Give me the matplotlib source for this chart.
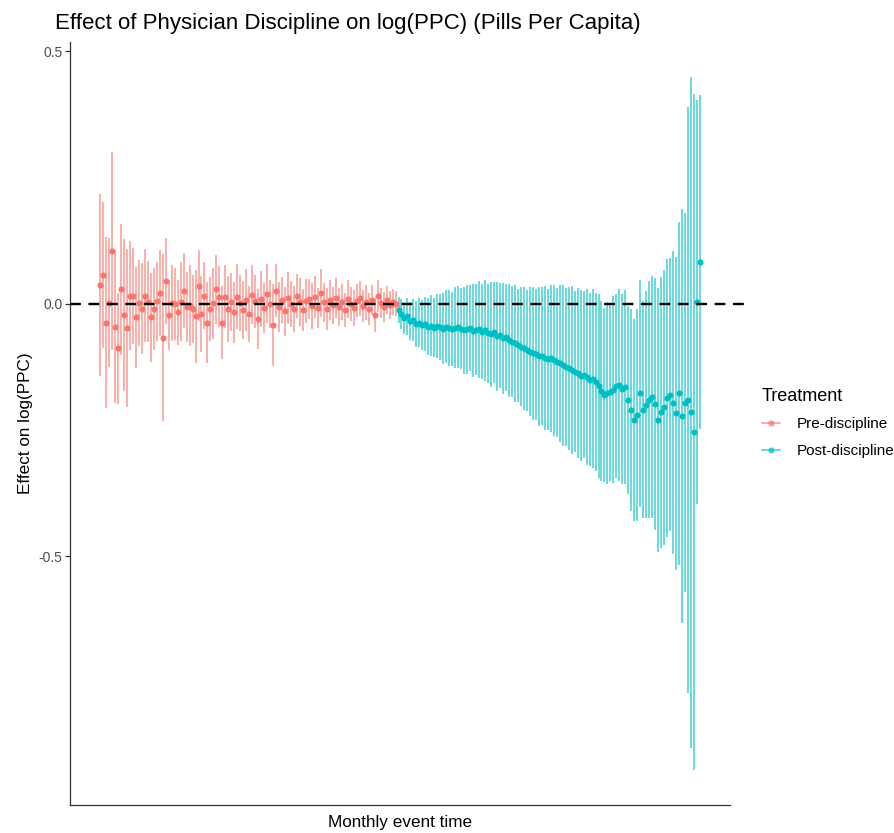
import numpy as np
import matplotlib
matplotlib.use("Agg")
import matplotlib.pyplot as plt
from matplotlib.lines import Line2D

plt.rcParams['font.family'] = ['Liberation Sans', 'DejaVu Sans']

# ---------------- data ----------------
pre_label = "Pre-discipline"
post_label = "Post-discipline"

pre_est = [
    0.038, 0.057, -0.037, 0.002, 0.104, -0.046, -0.088, 0.029, -0.022, -0.048,
    0.016, 0.016, -0.027, 0.002, -0.010, 0.016, 0.004, -0.027, -0.010, 0.005,
    0.021, -0.067, 0.046, -0.022, 0.002, 0.000, -0.017, 0.004, 0.026, -0.006,
    -0.004, -0.010, -0.025, 0.036, -0.020, 0.016, -0.037, -0.010, 0.001, 0.029,
    0.014, -0.037, 0.014, -0.010, 0.004, -0.017, 0.014, 0.002, -0.012, 0.008,
    -0.020, 0.018, 0.005, -0.030, 0.010, -0.008, 0.020, 0.000, -0.042, 0.026,
    -0.006, 0.008, -0.015, 0.012, 0.000, -0.010, 0.016, 0.004, -0.012, 0.006,
    0.010, -0.004, 0.014, -0.008, 0.022, 0.003, -0.010, 0.008, -0.003, 0.012,
    -0.006, 0.004, -0.012, 0.009, 0.000, -0.008, 0.006, 0.011, -0.004, 0.003,
    -0.010, 0.007, -0.022, 0.016, 0.002, -0.006, 0.008, -0.002, 0.004, 0.000,
]
pre_ci = [
    0.180, 0.145, 0.170, 0.128, 0.196, 0.150, 0.110, 0.130, 0.150, 0.156,
    0.108, 0.095, 0.100, 0.085, 0.090, 0.092, 0.080, 0.088, 0.082, 0.078,
    0.085, 0.165, 0.085, 0.070, 0.075, 0.072, 0.065, 0.078, 0.074, 0.070,
    0.080, 0.068, 0.092, 0.070, 0.075, 0.066, 0.080, 0.064, 0.070, 0.068,
    0.060, 0.072, 0.062, 0.066, 0.058, 0.060, 0.064, 0.056, 0.058, 0.062,
    0.055, 0.058, 0.052, 0.060, 0.056, 0.050, 0.058, 0.048, 0.082, 0.052,
    0.050, 0.046, 0.048, 0.052, 0.045, 0.046, 0.044, 0.048, 0.042, 0.044,
    0.040, 0.046, 0.042, 0.040, 0.048, 0.038, 0.042, 0.040, 0.036, 0.040,
    0.038, 0.036, 0.034, 0.038, 0.034, 0.036, 0.033, 0.035, 0.032, 0.034,
    0.032, 0.030, 0.034, 0.032, 0.030, 0.030, 0.028, 0.028, 0.026, 0.025,
]
post_est = [
    -0.012, -0.020, -0.028, -0.025, -0.034, -0.032, -0.040, -0.037, -0.042, -0.040,
    -0.045, -0.043, -0.047, -0.044, -0.046, -0.049, -0.045, -0.048, -0.050, -0.047,
    -0.046, -0.049, -0.052, -0.050, -0.048, -0.053, -0.051, -0.050, -0.055, -0.052,
    -0.058, -0.060, -0.056, -0.064, -0.062, -0.068, -0.066, -0.072, -0.075, -0.078,
    -0.082, -0.085, -0.088, -0.092, -0.095, -0.098, -0.100, -0.104, -0.103, -0.107,
    -0.110, -0.108, -0.112, -0.116, -0.118, -0.122, -0.125, -0.128, -0.131, -0.134,
    -0.137, -0.142, -0.140, -0.145, -0.150, -0.148, -0.155, -0.163, -0.172, -0.180,
    -0.176, -0.174, -0.170, -0.163, -0.160, -0.168, -0.165, -0.190, -0.210, -0.230,
    -0.220, -0.177, -0.210, -0.200, -0.190, -0.185, -0.198, -0.230, -0.215, -0.205,
    -0.187, -0.180, -0.196, -0.217, -0.177, -0.222, -0.196, -0.190, -0.215, -0.254,
    0.004, 0.083,
]
post_ci = [
    0.025, 0.030, 0.032, 0.036, 0.038, 0.042, 0.045, 0.048, 0.050, 0.054,
    0.056, 0.060, 0.058, 0.064, 0.066, 0.070, 0.072, 0.076, 0.074, 0.080,
    0.082, 0.080, 0.086, 0.088, 0.085, 0.092, 0.090, 0.096, 0.094, 0.100,
    0.098, 0.104, 0.100, 0.108, 0.104, 0.110, 0.106, 0.112, 0.110, 0.116,
    0.112, 0.118, 0.122, 0.120, 0.128, 0.132, 0.130, 0.138, 0.136, 0.142,
    0.140, 0.146, 0.150, 0.148, 0.155, 0.160, 0.156, 0.162, 0.166, 0.160,
    0.168, 0.170, 0.166, 0.174, 0.172, 0.178, 0.176, 0.182, 0.178, 0.172,
    0.180, 0.176, 0.185, 0.182, 0.190, 0.188, 0.192, 0.186, 0.200, 0.200,
    0.210, 0.225, 0.215, 0.225, 0.235, 0.240, 0.250, 0.262, 0.268, 0.272,
    0.275, 0.270, 0.300, 0.310, 0.340, 0.410, 0.375, 0.580, 0.665, 0.670,
    0.400, 0.330,
]

pre_t = np.arange(-len(pre_est), 0)
post_t = np.arange(0, len(post_est))

pre_color = "#F8766D"
post_color = "#00BFC4"

# ---------------- figure ----------------
fig = plt.figure(figsize=(8.95, 8.33), dpi=100)
ax = fig.add_axes([70 / 895, 28 / 833, 660 / 895, 763 / 833])

for t, est, ci, col in [(pre_t, pre_est, pre_ci, pre_color),
                        (post_t, post_est, post_ci, post_color)]:
    est = np.asarray(est)
    ci = np.asarray(ci)
    ax.vlines(t, est - ci, est + ci, color=col, alpha=0.75, lw=1.1, zorder=2)
    ax.plot(t, est, 'o', color=col, ms=4.4, mec='none', zorder=3)

ax.margins(x=0.05, y=0.05)
ax.axhline(0, xmin=0, xmax=1.027, color='black', lw=1.7,
           linestyle=(0, (4.6, 3.2)), clip_on=False, zorder=4)

for s in ['top', 'right']:
    ax.spines[s].set_visible(False)
for s in ['left', 'bottom']:
    ax.spines[s].set_color('#333333')
    ax.spines[s].set_linewidth(0.9)

ax.set_xticks([])
ax.set_yticks([-0.5, 0.0, 0.5])
ax.set_yticklabels(["-0.5", "0.0", "0.5"])
ax.tick_params(axis='y', length=3.5, width=0.9, color='#333333',
               labelcolor='#4D4D4D', labelsize=10, pad=2)

ax.set_title("Effect of Physician Discipline on log(PPC) (Pills Per Capita)",
             loc='left', x=-0.022, fontsize=16, pad=9)
ax.set_xlabel("Monthly event time", fontsize=12.3, labelpad=7)
ax.set_ylabel("Effect on log(PPC)", fontsize=12.3, labelpad=4)

handles = [
    Line2D([0], [0], color=pre_color, lw=1.1, alpha=0.75, marker='o',
           markersize=4.4, markerfacecolor=pre_color, markeredgecolor='none'),
    Line2D([0], [0], color=post_color, lw=1.1, alpha=0.75, marker='o',
           markersize=4.4, markerfacecolor=post_color, markeredgecolor='none'),
]
leg = fig.legend(handles, [pre_label, post_label], title="Treatment",
                 loc='center left', bbox_to_anchor=(748 / 895, 1 - 423 / 833),
                 frameon=False, fontsize=11, title_fontsize=13,
                 handlelength=1.2, handletextpad=1.1, labelspacing=0.85,
                 alignment='left')

fig.savefig("out.png", dpi=100)
